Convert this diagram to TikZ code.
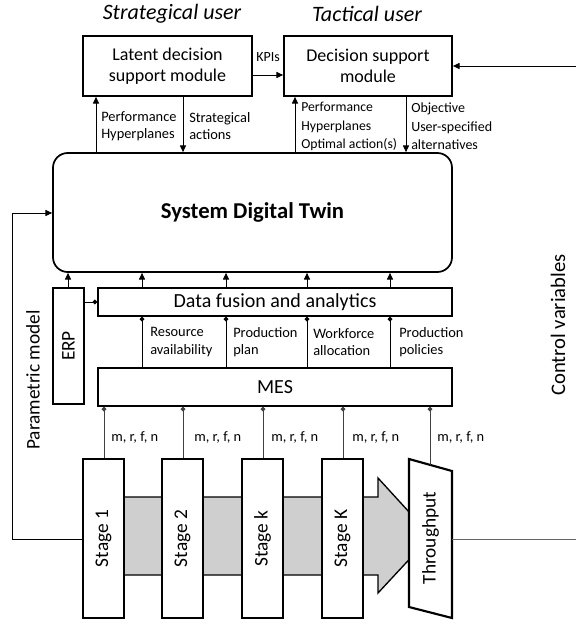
\documentclass[tikz,border=0pt]{standalone}
\usepackage{fontspec}
\setmainfont{Carlito}
\usetikzlibrary{fit,arrows.meta,calc}
\begin{document}
\begin{tikzpicture}[x=0.75pt,y=-0.75pt,
  box/.style={draw, line width=1.3pt, inner sep=0pt, fill=white},
  stagebox/.style={draw, line width=1.6pt, inner sep=0pt, fill=white},
  conn/.style={line width=0.7pt},
  arr/.style={conn, -{Triangle[length=5pt,width=4.5pt]}},
  dotstart/.style={conn, {Circle[length=3.5pt]}-},
  dotend/.style={conn, -{Circle[length=3.5pt]}},
  lbl/.style={font=\fontsize{10.8}{13.2}\selectfont, align=left, inner sep=0pt, anchor=west},
  big/.style={font=\fontsize{13.5}{16}\selectfont, align=center},
  rot/.style={font=\fontsize{14.5}{17}\selectfont, rotate=90},
  title/.style={font=\itshape\fontsize{16.5}{19}\selectfont}
]
\useasboundingbox (0,0) rectangle (576,623);

% titles
\node[title] (t1) at (172,14) {Strategical user};
\node[title] (t2) at (367,14) {Tactical user};

% top modules
\node[box, fit={(83,36) (252,96)}] (lat) {};
\node[big] at (lat) {Latent decision\\support module};
\node[box, fit={(284,36) (452,96)}] (dsm) {};
\node[big] at (dsm) {Decision support\\module};

% system digital twin
\node[box, rounded corners=11pt, fit={(53,153) (452,272)}] (sdt) {};
\node[font=\bfseries\fontsize{17}{20}\selectfont] at (sdt) {System Digital Twin};

% data fusion, ERP, MES
\node[box, fit={(98,288) (452,316)}] (dfa) {};
\node[font=\fontsize{15}{18}\selectfont] at (dfa) {Data fusion and analytics};
\node[box, fit={(53,288) (84,404)}] (erp) {};
\node[rot] at (erp) {ERP};
\node[box, fit={(98,368) (452,406)}] (mes) {};
\node[font=\fontsize{15}{18}\selectfont] at (mes) {MES};

% gray flow arrow
\draw[line width=1pt, fill=black!19] (124,497) -- (378,497) -- (378,478) -- (431,536) -- (378,593) -- (378,575) -- (124,575) -- cycle;

% stages
\node[stagebox, fit={(83,459) (124,618)}] (s1) {};
\node[rot] at (s1) {Stage 1};
\node[stagebox, fit={(162,459) (203,618)}] (s2) {};
\node[rot] at (s2) {Stage 2};
\node[stagebox, fit={(242,459) (283,618)}] (sk) {};
\node[rot] at (sk) {Stage k};
\node[stagebox, fit={(322,459) (363,618)}] (sK) {};
\node[rot] at (sK) {Stage K};

% throughput
\coordinate (tpTL) at (409,459);
\coordinate (tpTR) at (452,471);
\coordinate (tpBR) at (452,618);
\coordinate (tpBL) at (409,607);
\draw[line width=1.6pt, fill=white] (tpTL) -- (tpTR) -- (tpBR) -- (tpBL) -- cycle;
\node[rot] (tpt) at (430.5,538) {Throughput};

% KPIs and incoming control arrow
\coordinate (ky) at (0,75);
\draw[arr] (lat.east |- ky) -- (dsm.west |- ky);
\node[font=\fontsize{10.5}{12}\selectfont] (kpi) at (268,57) {KPIs};
\coordinate (rin) at (576,66);
\draw[arr] (rin) -- (rin -| dsm.east);

% vertical arrows between modules and SDT
\coordinate (xa) at (96,0);
\coordinate (xb) at (183,0);
\coordinate (xc) at (295,0);
\coordinate (xd) at (406,0);
\draw[arr] (xa |- sdt.north) -- (xa |- lat.south);
\draw[arr] (xb |- lat.south) -- (xb |- sdt.north);
\draw[arr] (xc |- sdt.north) -- (xc |- dsm.south);
\draw[arr] (xd |- dsm.south) -- (xd |- sdt.north);

\node[lbl, font=\fontsize{10.8}{12.8}\selectfont] (l1) at (101,126.5) {Performance\\Hyperplanes};
\node[lbl, font=\fontsize{10.8}{12.8}\selectfont] (l2) at (189,126.5) {Strategical\\actions};
\node[lbl, font=\fontsize{10.3}{13.9}\selectfont] (l3) at (301,126.5) {Performance\\Hyperplanes\\Optimal action(s)};
\node[lbl, font=\fontsize{10.5}{13.9}\selectfont] (l4) at (411,126.5) {Objective\\User-specified\\alternatives};

% arrows up into SDT
\coordinate (x0) at (68,0);
\coordinate (x1) at (142,0);
\coordinate (x2) at (226,0);
\coordinate (x3) at (307,0);
\coordinate (x4) at (390,0);
\draw[arr] (x0 |- erp.north) -- (x0 |- sdt.south);
\foreach \c in {x1,x2,x3,x4}
  \draw[arr] (\c |- dfa.north) -- (\c |- sdt.south);

% ERP to data fusion
\coordinate (ey) at (0,302);
\draw[dotend] (erp.east |- ey) -- (dfa.west |- ey);

% data fusion to MES
\foreach \c in {x1,x2,x3,x4}
  \draw[dotstart] (\c |- dfa.south) -- (\c |- mes.north);
\node[lbl] (r1) at (150,342) {Resource\\availability};
\node[lbl] (r2) at (233,342) {Production\\plan};
\node[lbl] (r3) at (313,342) {Workforce\\allocation};
\node[lbl] (r4) at (399,342) {Production\\policies};

% MES to stages
\coordinate (m1) at (104,0);
\coordinate (m2) at (183,0);
\coordinate (m3) at (263,0);
\coordinate (m4) at (343,0);
\coordinate (m5) at (430,0);
\coordinate (tptop) at (430,465);
\draw[dotstart, black!75] (m1 |- mes.south) -- (m1 |- s1.north);
\draw[dotstart, black!75] (m2 |- mes.south) -- (m2 |- s2.north);
\draw[dotstart, black!75] (m3 |- mes.south) -- (m3 |- sk.north);
\draw[dotstart, black!75] (m4 |- mes.south) -- (m4 |- sK.north);
\draw[dotstart, black!75] (m5 |- mes.south) -- (tptop);
\node[lbl] (n1) at (111,437) {m, r, f, n};
\node[lbl] (n2) at (194,437) {m, r, f, n};
\node[lbl] (n3) at (271,437) {m, r, f, n};
\node[lbl] (n4) at (352,437) {m, r, f, n};
\node[lbl] (n5) at (437,437) {m, r, f, n};

% parametric model feedback
\coordinate (pl) at (12,539);
\coordinate (pt) at (12,213);
\draw[arr] (pl -| s1.west) -- (pl) -- (pt) -- (pt -| sdt.west);
\node[rot] (pm) at (33,380) {Parametric model};

% throughput output / control variables
\coordinate (tpR) at (452,539);
\coordinate (rout) at (576,539);
\draw[conn, black!60] (tpR) -- (rout);
\node[rot, font=\fontsize{15.5}{18}\selectfont] (cv) at (558,325) {Control variables};
\end{tikzpicture}
\end{document}
